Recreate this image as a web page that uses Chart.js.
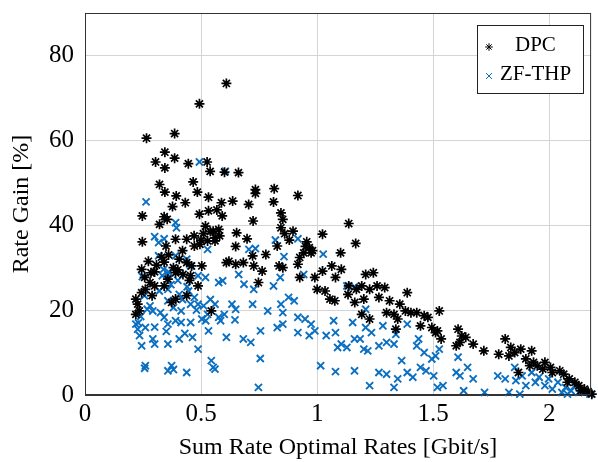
<!DOCTYPE html>
<html>
<head>
<meta charset="utf-8">
<script src="https://cdn.jsdelivr.net/npm/chart.js@4/dist/chart.umd.min.js"></script>
<style>
  html, body { margin: 0; padding: 0; background: #fff; }
  #wrap { width: 598px; height: 462px; position: relative; }
</style>
</head>
<body>
<div id="wrap"><canvas id="c"></canvas></div>
<script>
const xTicks = [0, 0.5, 1, 1.5, 2];
const yTicks = [0, 20, 40, 60, 80];
const seriesNames = ['DPC', 'ZF-THP'];

// DPC: sum rate (Gbit/s) and gain (%)
const dpcX = [0.609,0.493,0.386,0.265,0.344,0.304,0.344,0.386,0.445,0.526,0.539,0.601,0.661,0.321,0.466,0.484,0.344,0.393,0.532,0.588,0.636,0.432,0.377,0.705,0.734,0.734,0.815,0.812,0.917,0.247,0.341,0.354,0.321,0.493,0.532,0.568,0.591,0.724,0.844,0.852,0.844,0.519,0.552,0.576,0.653,0.698,0.896,1.023,1.136,1.166,0.247,0.349,0.390,0.438,0.471,0.495,0.528,0.560,0.649,0.722,0.779,0.828,0.955,0.966,0.942,0.974,0.925,1.101,0.273,0.308,0.341,0.381,0.406,0.438,0.459,0.503,0.609,0.649,0.682,0.727,0.763,0.836,0.852,0.917,0.925,0.990,1.023,1.063,1.079,1.104,0.244,0.284,0.257,0.357,0.390,0.422,0.455,0.300,0.260,0.244,0.289,0.219,0.227,0.219,0.234,0.341,0.390,0.373,0.438,0.487,0.544,0.747,1.000,1.034,1.055,1.076,1.133,1.136,1.169,1.162,1.192,1.209,1.242,1.201,1.226,1.258,1.291,1.266,1.192,1.226,1.312,1.299,1.331,1.356,1.347,1.339,1.388,1.380,1.404,1.429,1.445,1.461,1.477,1.494,1.526,1.510,1.534,1.518,1.599,1.607,1.623,1.640,1.672,1.615,1.718,1.782,1.810,1.834,1.826,1.851,1.877,1.924,1.899,1.867,1.932,1.948,1.981,1.972,2.005,2.045,2.062,2.086,2.110,2.127,2.151,2.167,2.183,1.916,2.013,2.078,2.135,0.360,0.420,0.470,0.510,0.560,0.300,0.280,0.330,0.400,0.450,0.500,0.540,0.580,0.620,0.860,0.880,0.950,0.980];
const dpcY = [73.4,68.6,61.6,60.5,57.2,54.9,53.5,55.8,54.5,54.9,52.7,52.5,52.4,49.6,50.2,47.8,47.8,46.9,46.6,45.3,45.7,45.3,44.4,44.9,48.4,47.5,48.6,45.5,47.0,42.2,42.0,41.4,40.2,42.6,43.4,43.6,42.2,41.0,42.9,41.4,39.4,39.8,38.6,39.0,38.2,36.8,38.6,37.9,40.4,35.7,36.1,35.1,36.7,36.7,35.1,35.5,36.3,36.3,35.0,32.8,33.1,35.1,36.1,34.7,33.5,33.5,32.4,33.5,31.5,30.6,31.3,30.0,32.0,31.2,30.4,30.4,31.2,30.8,31.2,30.4,29.2,30.4,30.0,30.8,27.7,27.7,29.2,30.4,27.7,29.6,29.6,28.8,27.7,27.3,28.8,28.4,28.1,25.7,24.9,24.1,23.4,22.6,21.4,19.0,19.8,25.7,22.6,21.8,23.4,25.7,19.8,26.5,24.9,24.5,22.6,22.2,23.7,25.7,24.9,21.8,25.7,28.4,28.8,22.6,24.9,25.7,25.3,23.0,19.0,17.9,22.2,19.4,19.0,21.4,17.9,15.5,24.1,19.8,19.4,19.4,16.3,18.7,18.3,15.9,19.8,14.7,13.2,15.1,11.6,15.5,13.9,13.6,12.0,12.4,10.4,9.6,13.2,11.2,9.2,10.0,10.8,10.4,8.5,5.3,7.7,6.9,7.7,6.1,6.5,5.7,4.9,3.8,3.0,2.2,1.4,0.8,0.2,6.9,5.3,3.0,1.0,33.0,34.0,37.5,38.0,37.0,29.0,26.5,32.5,29.5,27.0,36.5,38.5,37.5,31.5,38.0,36.5,35.0,34.0];

// ZF-THP: sum rate (Gbit/s) and gain (%)
const zfX = [0.493,0.604,0.263,0.390,0.394,0.300,0.341,0.317,0.820,0.917,0.706,0.734,1.026,0.528,0.857,0.317,0.390,0.438,0.338,0.357,0.333,0.455,0.487,0.519,0.662,0.841,0.942,0.247,0.576,0.593,0.685,0.727,0.812,1.128,1.161,0.256,0.357,0.406,0.446,0.471,0.487,0.357,0.381,0.325,0.292,0.268,0.414,0.455,0.511,0.560,0.633,0.649,0.722,0.787,0.844,0.877,0.901,0.852,0.528,0.503,0.576,0.584,0.646,0.341,0.390,0.357,0.414,0.455,0.219,0.227,0.260,0.235,0.244,0.292,0.300,0.357,0.406,0.463,0.487,0.532,0.609,0.682,0.714,0.756,0.828,0.852,0.917,0.917,0.948,0.974,0.990,0.966,1.039,1.071,1.079,1.104,1.088,1.128,1.161,1.153,1.185,1.201,1.218,1.209,1.234,1.209,1.266,1.283,1.299,1.331,1.339,1.388,1.429,1.437,1.461,1.494,1.526,1.510,0.260,0.257,0.373,0.381,0.357,0.438,0.544,0.552,0.560,0.755,0.747,1.015,1.079,1.161,1.226,1.266,1.299,1.331,1.347,1.364,1.388,1.412,1.445,1.469,1.502,1.518,1.542,1.607,1.599,1.615,1.631,1.648,1.672,1.721,1.778,1.810,1.826,1.851,1.856,1.873,1.883,1.899,1.924,1.940,1.956,1.981,1.997,2.013,2.037,2.054,2.070,2.094,2.110,2.127,2.151,2.175,2.078,0.240,0.230,0.280,0.320,0.370,0.420,0.360,0.400,0.440,0.480,0.540,0.300,0.350,0.430,0.520,0.600];
const zfY = [54.9,52.7,45.5,40.6,39.4,37.3,36.8,35.9,36.5,36.8,34.3,34.5,33.2,34.3,32.6,32.8,32.8,32.0,29.6,28.4,28.1,30.4,28.1,27.7,28.4,27.7,28.4,27.9,26.5,26.9,26.1,24.9,25.7,25.7,25.5,23.4,24.9,23.7,24.5,23.0,21.4,22.2,20.6,19.4,19.8,20.2,19.8,21.4,21.0,21.4,21.4,20.2,21.4,19.8,21.4,23.0,22.2,19.4,19.0,17.9,18.3,17.5,17.7,18.3,17.5,16.7,17.1,17.1,16.7,15.5,15.9,14.0,11.6,13.2,12.0,12.0,13.2,13.6,10.8,15.1,13.6,13.2,12.4,15.1,15.9,16.7,14.7,18.3,17.9,16.7,15.1,14.0,14.0,17.5,14.7,12.0,11.2,11.2,13.2,17.1,13.2,10.8,10.4,15.9,14.7,20.2,11.6,16.3,12.4,12.0,14.3,16.7,11.6,13.2,10.0,8.5,10.8,9.2,6.9,6.3,6.9,6.0,5.7,5.3,8.1,6.5,6.1,8.6,1.8,6.9,5.5,5.7,2.2,5.3,4.9,1.8,3.8,8.1,5.3,4.2,6.5,5.7,4.5,1.8,2.2,8.9,5.3,4.5,1.0,6.5,3.8,0.6,4.5,3.8,0.6,6.5,3.4,0.2,4.5,2.2,5.3,3.0,4.2,2.2,3.8,1.4,3.0,0.6,1.8,1.0,2.2,0.6,0.8,0.2,0.2,18.5,17.0,21.0,24.5,26.0,22.5,29.0,27.0,25.5,20.0,22.5,16.0,15.0,14.5,17.5,19.0];

const blue = '#0b6fc1';
const serif = '"Liberation Serif", "DejaVu Serif", serif';

function toPoints(xs, ys) {
  return xs.map((x, i) => ({ x, y: ys[i] }));
}

// full frame around the plot + legend box in the top right corner
const frameAndLegend = {
  id: 'frameAndLegend',
  afterDraw(chart) {
    const { ctx, chartArea: a } = chart;
    ctx.save();
    ctx.strokeStyle = '#333';
    ctx.lineWidth = 1;
    ctx.strokeRect(a.left + 0.5, a.top + 0.5, a.right - a.left - 1, a.bottom - a.top - 1);

    ctx.fillStyle = '#fff';
    ctx.fillRect(477.5, 25.5, 106, 68);
    ctx.strokeStyle = '#222';
    ctx.strokeRect(477.5, 25.5, 106, 68);

    const rows = [45, 74];
    const textX = [515, 500];
    chart.data.datasets.forEach((d, i) => {
      ctx.strokeStyle = d.borderColor;
      ctx.fillStyle = d.borderColor;
      Chart.helpers.drawPoint(ctx, {
        pointStyle: d.pointStyle,
        radius: i === 0 ? 3.8 : 4.2,
        borderWidth: d.borderWidth
      }, 489, rows[i] + 2);
      ctx.fillStyle = '#000';
      ctx.font = '21px ' + serif;
      ctx.textBaseline = 'middle';
      ctx.fillText(seriesNames[i], textX[i], rows[i]);
    });
    ctx.restore();
  }
};

new Chart(document.getElementById('c'), {
  type: 'scatter',
  data: {
    datasets: [
      {
        label: seriesNames[0],
        data: toPoints(dpcX, dpcY),
        pointStyle: 'star',
        pointRadius: 5,
        borderWidth: 1.7,
        borderColor: '#000',
        backgroundColor: '#000'
      },
      {
        label: seriesNames[1],
        data: toPoints(zfX, zfY),
        pointStyle: 'crossRot',
        pointRadius: 5,
        borderWidth: 1.9,
        borderColor: blue,
        backgroundColor: blue
      }
    ]
  },
  options: {
    responsive: true,
    maintainAspectRatio: false,
    animation: false,
    clip: false,
    layout: { padding: { top: 13, right: 1, left: 0, bottom: 0 } },
    plugins: {
      legend: { display: false },
      tooltip: { enabled: false }
    },
    scales: {
      x: {
        type: 'linear',
        min: 0,
        max: 2.18,
        afterBuildTicks: s => { s.ticks = xTicks.map(v => ({ value: v })); },
        afterFit: s => { s.height = 67; s.paddingLeft = 0; s.paddingRight = 0; },
        grid: { color: '#d4d4d4', drawTicks: false },
        border: { color: '#333' },
        ticks: {
          color: '#000',
          padding: 4,
          font: { family: serif, size: 25 },
          callback: v => String(v)
        },
        title: {
          display: true,
          text: 'Sum Rate Optimal Rates [Gbit/s]',
          color: '#000',
          font: { family: serif, size: 24 },
          padding: { top: 0, bottom: 0 }
        }
      },
      y: {
        type: 'linear',
        min: 0,
        max: 90,
        afterBuildTicks: s => { s.ticks = yTicks.map(v => ({ value: v })); },
        afterFit: s => { s.width = 85; s.paddingTop = 0; s.paddingBottom = 0; },
        grid: { color: '#d4d4d4', drawTicks: false },
        border: { color: '#333' },
        ticks: {
          color: '#000',
          padding: 11,
          font: { family: serif, size: 25 }
        },
        title: {
          display: true,
          text: 'Rate Gain [%]',
          color: '#000',
          font: { family: serif, size: 24 },
          padding: { top: 7, bottom: 0 }
        }
      }
    }
  },
  plugins: [frameAndLegend]
});
</script>
</body>
</html>
